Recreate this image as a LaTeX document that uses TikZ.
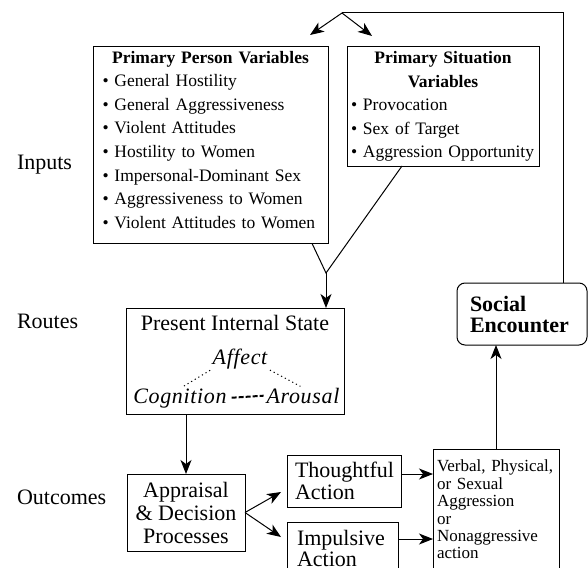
\documentclass[tikz,border=0pt]{standalone}
\usepackage{fontspec}
\setmainfont{Liberation Serif}
\usetikzlibrary{arrows.meta, positioning, calc}

\begin{document}
\begin{tikzpicture}[
        x=1pt, y=-1pt,
        every node/.style={inner sep=0pt, outer sep=0pt},
        box/.style={draw, line width=1pt, anchor=north west},
        small/.style={font=\fontsize{17.5}{23.6}\selectfont},
        big/.style={font=\fontsize{22}{23}\selectfont},
        emo/.style={font=\fontsize{22}{24}\selectfont\itshape\addfontfeature{LetterSpace=3}, anchor=base},
        link/.style={line width=1pt},
        arr/.style={link, -{Stealth[length=14pt, width=11pt, inset=4pt]}}
      ]
      \path[use as bounding box, clip] (0,0) rectangle (588,567);

      \node[big, anchor=west] (inputs) at (17,165) {Inputs};
      \node[big, anchor=west] (routes) at (17,321) {Routes};
      \node[big, anchor=west] (outcomes) at (17,497) {Outcomes};

      \node[box, small, align=left, text width=216pt, inner xsep=9.5pt, inner ysep=4pt] (person) at (93,47)
        {\makebox[\linewidth][c]{\bfseries Primary Person Variables}\\
         \textbullet\ General Hostility\\
         \textbullet\ General Aggressiveness\\
         \textbullet\ Violent Attitudes\\
         \textbullet\ Hostility to Women\\
         \textbullet\ Impersonal-Dominant Sex\\
         \textbullet\ Aggressiveness to Women\\
         \textbullet\ Violent Attitudes to Women\rule[-11pt]{0pt}{1pt}};
      \node[box, small, align=left, text width=184pt, inner xsep=4pt, inner ysep=4pt,
        minimum height=119pt] (situation) at (347,47)
        {\makebox[\linewidth][c]{\bfseries Primary Situation}\\
         \makebox[\linewidth][c]{\bfseries Variables}\\
         \textbullet\ Provocation\\
         \textbullet\ Sex of Target\\
         \textbullet\ Aggression Opportunity};

      \node[box, minimum width=218pt, minimum height=106pt] (pis) at (126,308) {};
      \node[big, below=7pt of pis.north] (pis title) {Present Internal State};
      \node[emo] (affect) at (240,364) {Affect};
      \node[emo] (cognition) at (180,403) {Cognition};
      \node[emo] (arousal) at (303,403) {Arousal};

      \node[box, big, align=center, minimum width=118pt, minimum height=77pt] (appraisal) at (127,474)
        {Appraisal\\ \& Decision\\ Processes};
      \node[box, big, align=left, text width=98pt, inner xsep=8pt, minimum height=52pt,
        font=\fontsize{22}{22}\selectfont] (thoughtful) at (287,455) {Thoughtful\\ Action};
      \node[box, big, align=left, text width=91pt, inner xsep=10pt, minimum height=53pt,
        font=\fontsize{22}{21}\selectfont] (impulsive) at (287,522) {Impulsive\\ Action};
      \node[box, align=left, text width=118pt, inner xsep=4pt, minimum height=121pt,
        font=\fontsize{17}{17.4}\selectfont] (verbal) at (433,449)
        {Verbal, Physical,\\ or Sexual\\ Aggression\\ or\\ Nonaggressive\\ action};
      \node[box, rounded corners=8pt, align=left, text width=104pt, inner xsep=13pt,
        minimum height=62pt, font=\fontsize{22}{21}\selectfont\bfseries] (social) at (457,283)
        {Social\\ Encounter};

      \coordinate (split) at (342,13);
      \coordinate (corner) at (563,13);
      \coordinate (person tip) at (310,35);
      \coordinate (situation tip) at (372,36);
      \coordinate (merge) at (326,273);
      \coordinate (t1) at ($(thoughtful.east)+(0,-7)$);
      \coordinate (i1) at ($(impulsive.east)+(0,-9.5)$);

      \draw[link] (social.north -| corner) -- (corner) -- (split);
      \draw[arr] (split) -- (person tip);
      \draw[arr] (split) -- (situation tip);
      \draw[link] ($(person.south east)+(-16,0)$) -- (merge) -- ($(situation.south)+(-41,0)$);
      \draw[arr] (merge) -- (merge |- pis.north);
      \draw[link, dash pattern=on 1.2pt off 3pt, shorten <=3pt, shorten >=3pt]
        (affect.south west) -- (cognition.north);
      \draw[link, dash pattern=on 1.2pt off 3pt, shorten <=3pt, shorten >=3pt]
        (affect.south east) -- (arousal.north);
      \draw[line width=2pt, dash pattern=on 5pt off 2pt, shorten <=5pt, shorten >=3pt]
        (cognition.east) -- (arousal.west);
      \draw[arr] (appraisal.north |- pis.south) -- (appraisal.north);
      \draw[arr] (appraisal.east) -- ($(thoughtful.west)+(-6,11)$);
      \draw[arr] (appraisal.east) -- ($(impulsive.north west)+(-6,15)$);
      \draw[arr] (t1) -- (t1 -| verbal.west);
      \draw[arr] (i1) -- (i1 -| verbal.west);
      \draw[arr] (verbal.north) -- (verbal.north |- social.south);
\end{tikzpicture}
\end{document}
